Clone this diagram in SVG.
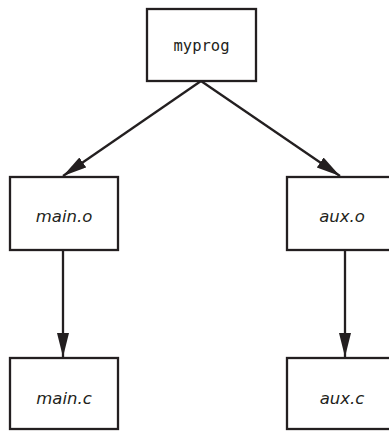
<svg xmlns="http://www.w3.org/2000/svg" width="389" height="431" viewBox="0 0 389 431">
<style>
.box{fill:#fff;stroke:#231f20;stroke-width:2.3}
.edge{stroke:#231f20;stroke-width:2.3;fill:none}
.lbl{font-family:"DejaVu Sans",sans-serif;font-style:italic;font-size:16.5px;fill:#231f20;text-anchor:middle}
.mono{font-family:"DejaVu Sans Mono",monospace;font-size:15.5px;fill:#231f20;text-anchor:middle}
</style>
<defs>
<marker id="ah" markerUnits="userSpaceOnUse" markerWidth="26" markerHeight="14" refX="24" refY="6" orient="auto">
<path d="M0,0 L24,6 L0,12 Z" fill="#231f20"/>
</marker>
</defs>
<rect width="389" height="431" fill="#fff"/>
<g id="connectors">
<line class="edge" x1="201" y1="81" x2="63" y2="176" marker-end="url(#ah)"/>
<line class="edge" x1="201" y1="81" x2="340" y2="176" marker-end="url(#ah)"/>
<line class="edge" x1="63" y1="251" x2="63" y2="357" marker-end="url(#ah)"/>
<line class="edge" x1="345" y1="251" x2="345" y2="357" marker-end="url(#ah)"/>
</g>
<g id="myprog">
<rect class="box" x="147" y="9" width="109" height="72"/>
<text class="mono" x="201.5" y="51">myprog</text>
</g>
<g id="main_o">
<rect class="box" x="10" y="177" width="108" height="73"/>
<text class="lbl" x="64" y="222">main.o</text>
</g>
<g id="aux_o">
<rect class="box" x="287" y="177" width="110" height="73"/>
<text class="lbl" x="342" y="222">aux.o</text>
</g>
<g id="main_c">
<rect class="box" x="10" y="358" width="108" height="71"/>
<text class="lbl" x="64" y="404">main.c</text>
</g>
<g id="aux_c">
<rect class="box" x="287" y="358" width="110" height="71"/>
<text class="lbl" x="342" y="404">aux.c</text>
</g>
</svg>
